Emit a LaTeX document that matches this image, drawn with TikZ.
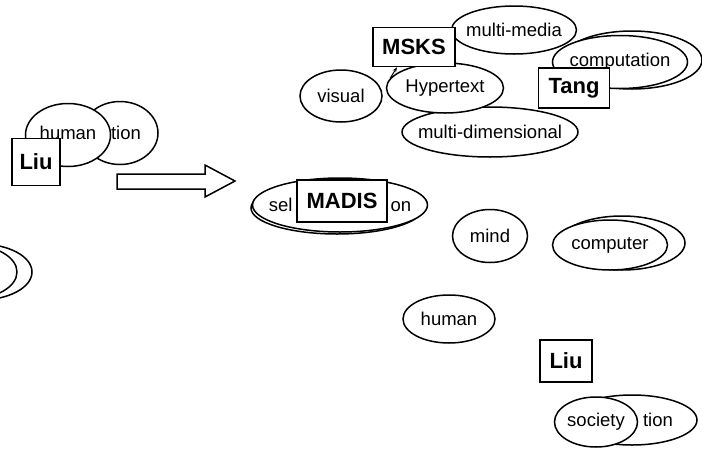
\documentclass[tikz,border=0pt]{standalone}
\usepackage{fontspec}
\setmainfont{Liberation Sans}
\usetikzlibrary{shapes.geometric,arrows.meta}

\begin{document}
\begin{tikzpicture}[x=1pt,y=-1pt,
    bubble/.style={ellipse,draw,fill=white,line width=1.5pt,inner sep=0pt,
        font=\fontsize{18.5}{20}\selectfont},
    namebox/.style={rectangle,draw,fill=white,line width=1.5pt,inner sep=0pt,
        font=\fontsize{22}{24}\selectfont\bfseries}]
    \useasboundingbox (0,0) rectangle (702,453);
    \clip (0,0) rectangle (702,453);
    % \draw[help lines, color=gray!30, dashed] (0,0) grid[step=50] (702,453);

    % before
    \foreach \nm/\x/\y/\w/\h/\txt in {lb/-20/272/104/56/{}, lf/-30/272/94/54/{},
            tionL/120/133/76/63/{\hspace*{12pt}tion}, humL/68/135/85/63/{\raisebox{4pt}{human}}}
        \node[bubble,minimum width=\w pt,minimum height=\h pt] (\nm) at (\x,\y) {\makebox[0pt]{\txt}};

    \draw[line width=1.5pt,fill=white] (117,174) -- (205,174) -- (205,165) -- (235,181)
        -- (205,197) -- (205,189) -- (117,189) -- cycle;

    % after
    \foreach \nm/\x/\y/\w/\h/\txt in {mm/514/30/125/48/multi-media,
            md/490/132/176/50/multi-dimensional, hyp/445/88/117/50/Hypertext,
            vis/341/96/82/52/visual, compb/632/60/140/58/{}, comp/620/62/135/53/computation,
            selb/337/208/172/52/{}, sel/340/205/175/54/{sel\hspace{98pt}on},
            mind/490/236/75/53/mind, cmpb/622/243/126/54/{}, cmp/610/245/115/50/computer,
            hmn/449/319/92/48/human, socb/632/420/130/50/{\hspace*{52pt}tion},
            soc/596/422/83/50/society}
        \node[bubble,minimum width=\w pt,minimum height=\h pt] (\nm) at (\x,\y) {\makebox[0pt]{\txt}};

    \foreach \nm/\x/\y/\w/\h/\txt in {liuL/36/162/48/47/Liu, msks/414/47/82/39/MSKS,
            tang/574/88/71/40/Tang, madis/342/201/90/42/MADIS, liuR/566/361/52/42/Liu}
        \node[namebox,minimum width=\w pt,minimum height=\h pt] (\nm) at (\x,\y) {\txt};

    \draw[-{Stealth[length=5pt]},line width=1pt] (hyp.170) -- ([xshift=-17pt]msks.south);
\end{tikzpicture}
\end{document}
